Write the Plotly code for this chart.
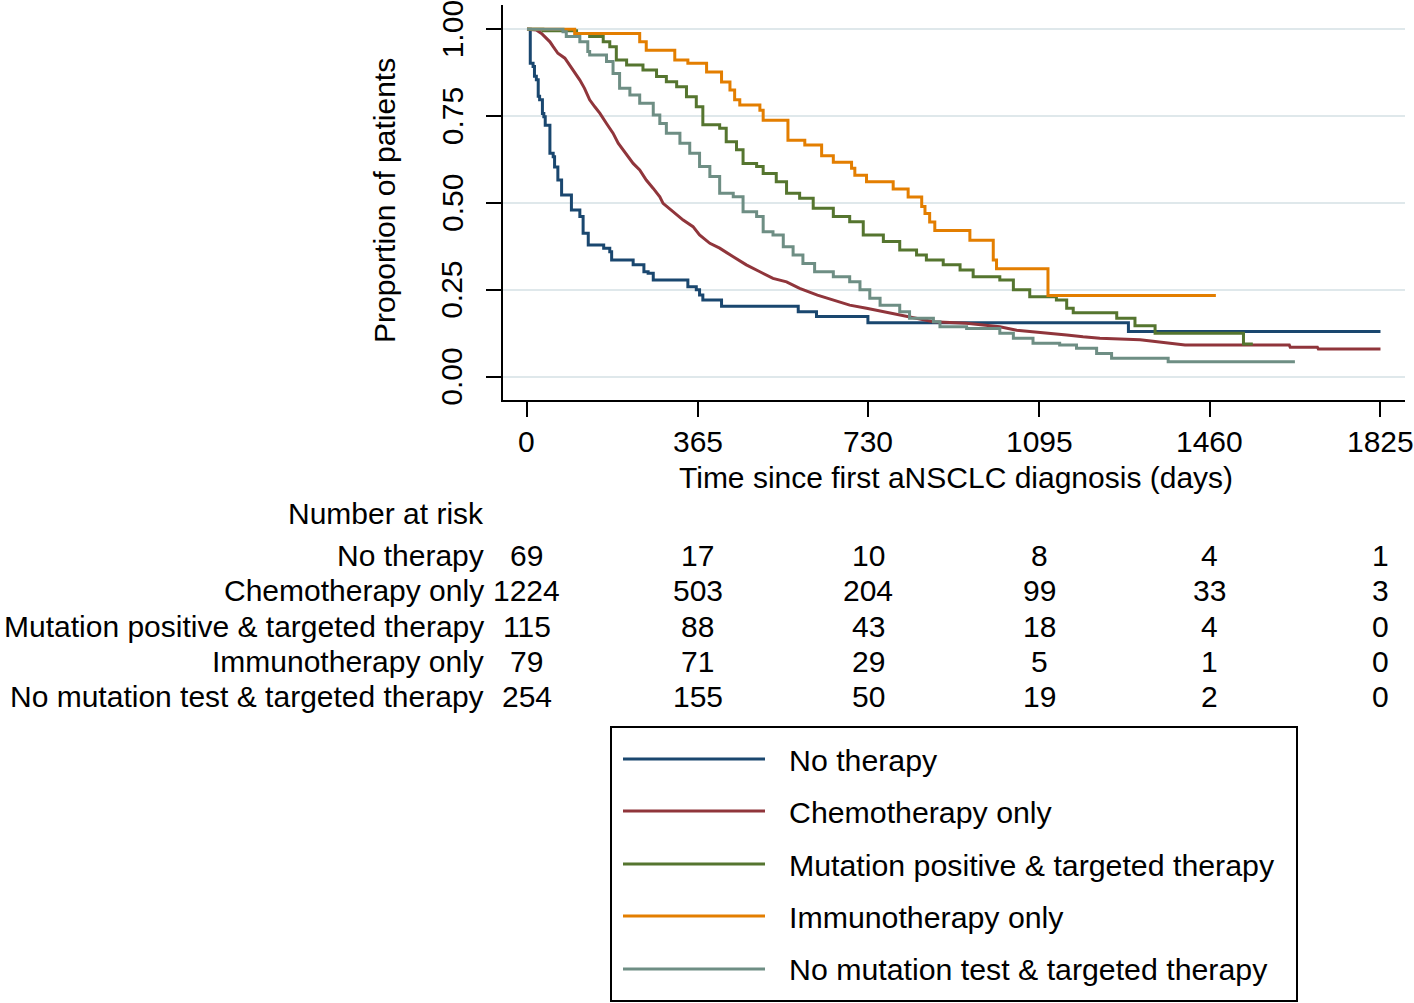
import plotly.graph_objects as go

# ---------------- data ----------------
at_risk_times = [0, 365, 730, 1095, 1460, 1825]

group_names = [
    "No therapy",
    "Chemotherapy only",
    "Mutation positive & targeted therapy",
    "Immunotherapy only",
    "No mutation test & targeted therapy",
]

risk_no_therapy = [69, 17, 10, 8, 4, 1]
risk_chemo = [1224, 503, 204, 99, 33, 3]
risk_mutation = [115, 88, 43, 18, 4, 0]
risk_immuno = [79, 71, 29, 5, 1, 0]
risk_no_test = [254, 155, 50, 19, 2, 0]

no_therapy_t = [0, 7, 13, 16, 20, 24, 27, 33, 36, 39, 49, 56, 59, 66, 74, 95, 113, 120, 131,
                164, 177, 181, 227, 250, 259, 270, 344, 362, 369, 376, 416, 580, 619, 729, 1286, 1825]
no_therapy_s = [1.0, 0.902, 0.893, 0.865, 0.855, 0.807, 0.797, 0.758, 0.748, 0.724, 0.643, 0.633, 0.604,
                0.566, 0.523, 0.480, 0.461, 0.413, 0.379, 0.370, 0.360, 0.336, 0.322, 0.302, 0.298,
                0.278, 0.259, 0.250, 0.235, 0.221, 0.203, 0.187, 0.173, 0.155, 0.130, 0.130]

# chemotherapy group is large (n=1224): its curve is nearly continuous, read as a polyline
chemo_t = [0, 10, 20, 31, 49, 56, 66, 81, 91, 102, 113, 123, 134, 145, 156, 170, 184, 195, 205, 227,
           241, 255, 270, 284, 291, 312, 334, 355, 369, 391, 412, 441, 469, 498, 526, 555, 583, 621,
           655, 690, 726, 762, 797, 833, 869, 940, 1011, 1047, 1082, 1118, 1154, 1189, 1225, 1311,
           1382, 1407, 1630, 1632, 1690, 1692, 1825]
chemo_s = [1.0, 1.0, 0.998, 0.988, 0.964, 0.950, 0.931, 0.917, 0.897, 0.878, 0.854, 0.830, 0.797,
           0.777, 0.758, 0.729, 0.701, 0.672, 0.653, 0.614, 0.595, 0.566, 0.542, 0.518, 0.499, 0.475,
           0.451, 0.432, 0.408, 0.384, 0.370, 0.345, 0.322, 0.302, 0.283, 0.273, 0.254, 0.235, 0.221,
           0.206, 0.197, 0.187, 0.178, 0.168, 0.158, 0.154, 0.144, 0.134, 0.130, 0.125, 0.120, 0.115,
           0.111, 0.106, 0.096, 0.091, 0.091, 0.085, 0.085, 0.080, 0.080]

mutation_t = [0, 34, 106, 134, 163, 177, 191, 213, 248, 277, 298, 320, 341, 362, 376, 412, 426, 448,
              462, 491, 505, 533, 555, 583, 612, 655, 690, 719, 762, 797, 833, 854, 890, 926, 954,
              1011, 1040, 1075, 1132, 1154, 1168, 1261, 1300, 1343, 1532, 1552]
mutation_s = [1.0, 0.996, 0.988, 0.979, 0.964, 0.950, 0.912, 0.897, 0.883, 0.864, 0.849, 0.835, 0.806,
              0.777, 0.725, 0.715, 0.676, 0.653, 0.614, 0.605, 0.585, 0.561, 0.528, 0.514, 0.485,
              0.461, 0.446, 0.408, 0.389, 0.365, 0.350, 0.336, 0.322, 0.307, 0.288, 0.278, 0.250,
              0.230, 0.221, 0.197, 0.184, 0.168, 0.147, 0.125, 0.094, 0.094]

immuno_t = [0, 102, 241, 255, 316, 344, 384, 416, 434, 444, 455, 498, 505, 558, 594, 630, 655, 694,
            701, 726, 783, 815, 844, 851, 861, 872, 947, 997, 1004, 1114, 1473]
immuno_s = [1.0, 0.988, 0.964, 0.940, 0.912, 0.902, 0.877, 0.848, 0.825, 0.797, 0.782, 0.767, 0.738,
            0.681, 0.667, 0.636, 0.617, 0.600, 0.580, 0.561, 0.540, 0.517, 0.490, 0.470, 0.445, 0.421,
            0.393, 0.336, 0.311, 0.234, 0.234]

no_test_t = [0, 77, 84, 113, 130, 134, 170, 184, 198, 220, 241, 270, 284, 298, 327, 348, 369, 391,
             412, 441, 462, 491, 505, 526, 548, 569, 590, 615, 655, 690, 712, 733, 755, 797, 818,
             869, 883, 940, 1011, 1040, 1082, 1139, 1175, 1218, 1250, 1371, 1642]
no_test_s = [1.0, 0.993, 0.979, 0.964, 0.936, 0.926, 0.907, 0.873, 0.830, 0.811, 0.787, 0.753, 0.729,
             0.701, 0.672, 0.643, 0.605, 0.576, 0.528, 0.518, 0.475, 0.461, 0.417, 0.408, 0.374,
             0.350, 0.326, 0.302, 0.288, 0.273, 0.250, 0.226, 0.206, 0.187, 0.168, 0.158, 0.144,
             0.139, 0.125, 0.111, 0.096, 0.091, 0.082, 0.067, 0.053, 0.043, 0.043]

y_tick_vals = [0, 0.25, 0.5, 0.75, 1.0]
y_tick_text = ["0.00", "0.25", "0.50", "0.75", "1.00"]

# ---------------- styling ----------------
colors = ["#1a476f", "#90353b", "#55752f", "#e37e00", "#6e8e84"]
shapes_kind = ["hv", "linear", "hv", "hv", "hv"]
FONT = "Liberation Sans, Arial, Helvetica, sans-serif"
FS = 30

W, H = 1414, 1003
L, R, T, B = 503, 1405, 5, 400   # plot area in pixels


def pxx(p):
    return (p - L) / (R - L)


def pxy(p):
    return (B - p) / (B - T)


series_t = [no_therapy_t, chemo_t, mutation_t, immuno_t, no_test_t]
series_s = [no_therapy_s, chemo_s, mutation_s, immuno_s, no_test_s]
risk_rows = [risk_no_therapy, risk_chemo, risk_mutation, risk_immuno, risk_no_test]

fig = go.Figure()
for name, t, s, c, sk in zip(group_names, series_t, series_s, colors, shapes_kind):
    fig.add_trace(go.Scatter(x=t, y=s, mode="lines", name=name,
                             line=dict(color=c, width=3, shape=sk),
                             showlegend=False, hoverinfo="skip"))

fig.update_layout(
    width=W, height=H,
    margin=dict(l=L, r=W - R, t=T, b=H - B, pad=0, autoexpand=False),
    paper_bgcolor="white", plot_bgcolor="white",
    font=dict(family=FONT, size=FS, color="black"),
    showlegend=False,
)

fig.update_xaxes(
    range=[-51.3, 1877.4], tickmode="array", tickvals=at_risk_times, showticklabels=False,
    automargin=False,
    ticks="outside", ticklen=15, tickwidth=2, tickcolor="black",
    showline=True, linewidth=2, linecolor="black",
    showgrid=False, zeroline=False,
)
fig.update_yaxes(
    range=[-0.0671, 1.070], tickmode="array", tickvals=y_tick_vals, showticklabels=False,
    ticks="outside", ticklen=15, tickwidth=2, tickcolor="black", automargin=False,
    showline=True, linewidth=2, linecolor="black",
    showgrid=True, gridcolor="#dfe8eb", gridwidth=2, zeroline=False,
)

ann = []
# y tick labels (rotated, like the original)
for v, txt in zip(y_tick_vals, y_tick_text):
    ann.append(dict(text=txt, xref="paper", yref="y", x=pxx(452), y=v, textangle=-90,
                    showarrow=False, xanchor="center", yanchor="middle", font=dict(size=FS)))
# x tick labels
for v in at_risk_times:
    ann.append(dict(text=str(v), xref="x", yref="paper", x=v, y=pxy(441),
                    showarrow=False, xanchor="center", yanchor="middle", font=dict(size=FS)))
# axis titles
ann.append(dict(text="Proportion of patients", xref="paper", yref="paper",
                x=pxx(384), y=pxy(201), textangle=-90, showarrow=False,
                xanchor="center", yanchor="middle", font=dict(size=FS)))
ann.append(dict(text="Time since first aNSCLC diagnosis (days)", xref="paper", yref="paper",
                x=pxx(956), y=pxy(477), showarrow=False,
                xanchor="center", yanchor="middle", font=dict(size=FS)))

# number at risk table
ann.append(dict(text="Number at risk", xref="paper", yref="paper", x=pxx(486), y=pxy(513),
                showarrow=False, xanchor="right", yanchor="middle", font=dict(size=FS)))
row_y = [555, 590, 626, 661, 696]
for name, ry, counts in zip(group_names, row_y, risk_rows):
    ann.append(dict(text=name, xref="paper", yref="paper", x=pxx(486), y=pxy(ry),
                    showarrow=False, xanchor="right", yanchor="middle", font=dict(size=FS)))
    for tv, cnt in zip(at_risk_times, counts):
        ann.append(dict(text=str(cnt), xref="x", yref="paper", x=tv, y=pxy(ry),
                        showarrow=False, xanchor="center", yanchor="middle", font=dict(size=FS)))

# legend (drawn manually to match long line samples)
shapes = [dict(type="rect", xref="paper", yref="paper", x0=pxx(611), x1=pxx(1297),
               y0=pxy(1001), y1=pxy(727), line=dict(color="black", width=2),
               fillcolor="rgba(0,0,0,0)")]
leg_y = [759, 811, 864, 916, 969]
for name, c, ly in zip(group_names, colors, leg_y):
    shapes.append(dict(type="line", xref="paper", yref="paper", x0=pxx(623), x1=pxx(765),
                       y0=pxy(ly), y1=pxy(ly), line=dict(color=c, width=3)))
    ann.append(dict(text=name, xref="paper", yref="paper", x=pxx(787), y=pxy(ly + 1),
                    showarrow=False, xanchor="left", yanchor="middle",
                    font=dict(size=30.3)))

fig.update_layout(annotations=ann, shapes=shapes)

fig.write_html("out.html", config={"displayModeBar": False},
               post_script="document.body.style.margin='0px';document.body.style.overflow='hidden';")
